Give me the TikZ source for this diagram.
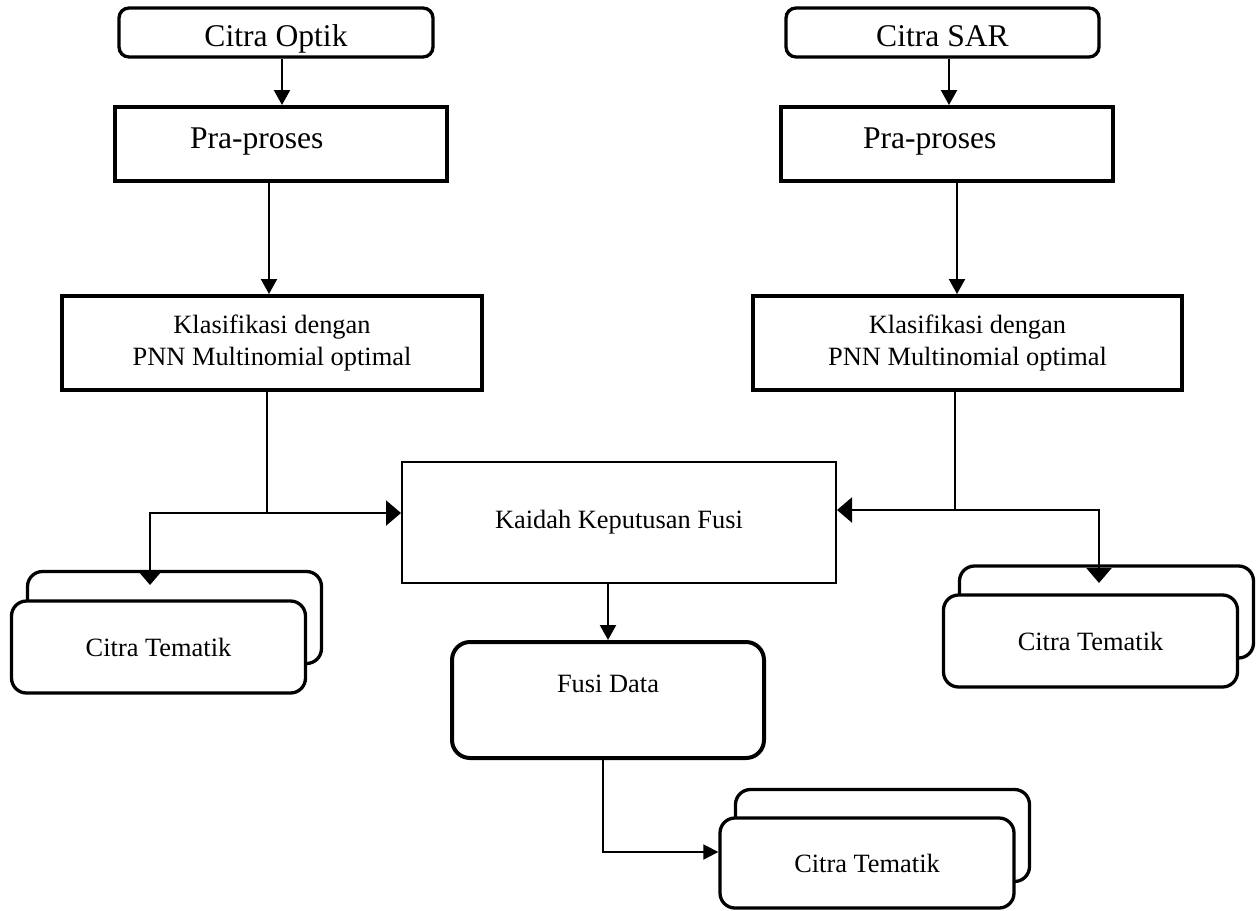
\documentclass[tikz,border=0pt]{standalone}
\usepackage{fontspec}
\setmainfont{Liberation Serif}
\usetikzlibrary{arrows.meta}

\begin{document}
\begin{tikzpicture}[x=1pt,y=-1pt,
  bigtext/.style={font=\fontsize{31.6}{38}\selectfont},
  smalltext/.style={font=\fontsize{26.4}{32}\selectfont},
  srcbox/.style={draw,bigtext,rounded corners=10pt,line width=3.3pt,minimum width=314pt,minimum height=49pt,inner sep=0pt,text height=27pt,text depth=0pt},
  prebox/.style={draw,bigtext,line width=4pt,minimum width=332pt,minimum height=74pt,inner sep=0pt,align=left,text height=21pt,text depth=13pt},
  klasbox/.style={draw,smalltext,line width=4pt,minimum width=420pt,minimum height=94pt,inner sep=0pt,align=center},
  tembox/.style={draw,smalltext,fill=white,rounded corners=15pt,line width=3.3pt,minimum width=294pt,minimum height=92pt,inner sep=0pt},
  pointer/.style={line width=2.2pt,-{Triangle[length=15pt,width=16pt]}},
  fanarrow/.style={line width=2.2pt,-{Triangle[length=15pt,width=25pt]}},
]
\useasboundingbox (0,0) rectangle (1260,910);

% optik branch
\node[srcbox] (optik) at (276,32.5) {Citra Optik};
\node[prebox,text width=182pt] (preA) at (281,144) {Pra-proses};
\node[klasbox] (klasA) at (272,343) {Klasifikasi dengan\\PNN Multinomial optimal};
\node[tembox] (temAb) at (174.5,617.5) {};
\node[tembox] (temA) at (158.5,647) {Citra Tematik};

% SAR branch
\node[srcbox,minimum width=313pt] (sar) at (942.5,32.5) {Citra SAR};
\node[prebox,text width=167pt] (preB) at (946.5,144) {Pra-proses};
\node[klasbox,minimum width=429pt] (klasB) at (967.5,343) {Klasifikasi dengan\\PNN Multinomial optimal};
\node[tembox] (temBb) at (1106.5,612) {};
\node[tembox] (temB) at (1090.5,641) {Citra Tematik};

% fusion
\node[draw,smalltext,line width=2pt,minimum width=434pt,minimum height=121pt,inner sep=0pt] (kaidah) at (619,522.5) {Kaidah Keputusan Fusi};
\node[draw,smalltext,rounded corners=18pt,line width=4pt,minimum width=312pt,minimum height=116pt,inner sep=0pt,text height=18pt,text depth=34pt] (fusi) at (608,700) {Fusi Data};
\node[tembox] (temCb) at (882.5,835.5) {};
\node[tembox,minimum height=90pt] (temC) at (867,863) {Citra Tematik};

\coordinate (jA) at (267,513);
\coordinate (jB) at (955,510);
\coordinate (tipA) at (150,585);
\coordinate (tipB) at (1099,583);

\draw[pointer] ([xshift=6pt]optik.south) -- ([xshift=6pt]optik.south |- preA.north);
\draw[pointer] ([xshift=-12pt]preA.south) -- ([xshift=-12pt]preA.south |- klasA.north);
\draw[pointer] ([xshift=6.5pt]sar.south) -- ([xshift=6.5pt]sar.south |- preB.north);
\draw[pointer] ([xshift=10.5pt]preB.south) -- ([xshift=10.5pt]preB.south |- klasB.north);

\draw[line width=1.3pt] (klasA.south -| jA) -- (jA);
\draw[fanarrow] (jA) -- (jA -| kaidah.west);
\draw[fanarrow] (jA) -| (tipA);
\draw[line width=1.3pt] (klasB.south -| jB) -- (jB);
\draw[fanarrow] (jB) -- (jB -| kaidah.east);
\draw[fanarrow] (jB) -| (tipB);

\draw[pointer] (kaidah.south -| fusi.north) -- (fusi.north);
\draw[line width=1.7pt,-{Triangle[length=15pt,width=15pt]}] ([xshift=-5pt]fusi.south) |- ([yshift=11pt]temC.west);
\end{tikzpicture}
\end{document}
